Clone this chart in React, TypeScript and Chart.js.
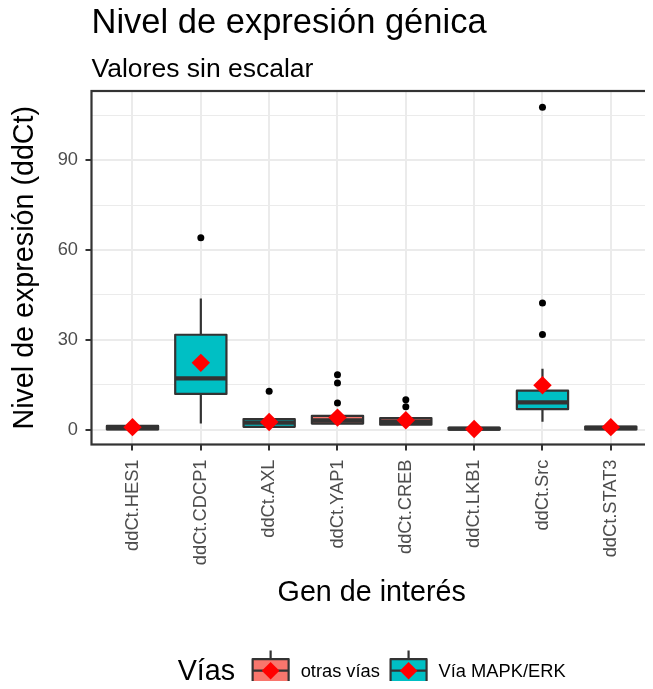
import React, { useEffect, useRef } from 'react';
import { Chart, registerables } from 'chart.js';

Chart.register(...registerables);

const FONT = '"Liberation Sans", Arial, Helvetica, sans-serif';

// ---- text ----
const chartTitle = 'Nivel de expresión génica';
const chartSubtitle = 'Valores sin escalar';
const xTitle = 'Gen de interés';
const yTitle = 'Nivel de expresión (ddCt)';
const legendTitle = 'Vías';

// ---- data ----
const genes = ['ddCt.HES1', 'ddCt.CDCP1', 'ddCt.AXL', 'ddCt.YAP1', 'ddCt.CREB', 'ddCt.LKB1', 'ddCt.Src', 'ddCt.STAT3'];
const pathwayNames = ['otras vías', 'Vía MAPK/ERK'];
const pathwayColors = ['#F8766D', '#00BFC4'];
const genePathway = [0, 1, 1, 0, 0, 0, 1, 0];
const whiskerLow = [0.0, 2.0, 0.5, 1.6, 1.2, 0.0, 2.6, 0.0];
const q1 = [0.05, 11.9, 0.9, 2.0, 1.6, 0.0, 6.8, 0.05];
const median = [0.5, 17.1, 2.3, 3.0, 2.6, 0.3, 9.1, 0.5];
const q3 = [1.2, 31.7, 3.5, 4.6, 3.8, 0.6, 13.0, 1.0];
const whiskerHigh = [1.5, 43.8, 3.6, 4.7, 3.9, 0.8, 20.3, 1.3];
const means = [0.8, 22.3, 2.5, 4.0, 3.1, 0.2, 14.8, 0.8];
const outlierGene = [1, 2, 3, 3, 3, 4, 4, 6, 6, 6];
const outlierValue = [64.1, 12.8, 8.9, 15.6, 18.3, 7.6, 10.0, 31.8, 42.3, 107.8];
const yMajorTicks = [0, 30, 60, 90];
const yMinorTicks = [15, 45, 75, 105];
const yLimits = [-5.0, 113.2];

const DARK = '#333333';
const GRID = '#EBEBEB';
const TITLE_SIZE = 34.5;
const AXIS_TITLE_SIZE = 28.7;
const TICK_SIZE = 18.3;

const boxPlugin = {
  id: 'boxDecor',
  afterDatasetDraw(chart: any, args: any) {
    if (args.index !== 0) return;
    const meta = chart.getDatasetMeta(0);
    const ys = chart.scales.y;
    const ctx = chart.ctx;
    ctx.save();
    ctx.strokeStyle = DARK;
    meta.data.forEach((el: any, i: number) => {
      const { x, width } = el.getProps(['x', 'width'], true);
      const xl = x - width / 2;
      const xr = x + width / 2;
      const pq1 = ys.getPixelForValue(q1[i]);
      const pq3 = ys.getPixelForValue(q3[i]);
      const pm = ys.getPixelForValue(median[i]);
      const pl = ys.getPixelForValue(whiskerLow[i]);
      const ph = ys.getPixelForValue(whiskerHigh[i]);
      ctx.lineCap = 'butt';
      ctx.lineWidth = 2.2;
      ctx.beginPath();
      ctx.moveTo(x, pq3);
      ctx.lineTo(x, ph);
      ctx.moveTo(x, pq1);
      ctx.lineTo(x, pl);
      ctx.stroke();
      ctx.lineJoin = 'round';
      ctx.strokeRect(xl, pq3, width, pq1 - pq3);
      ctx.lineWidth = 4.4;
      ctx.beginPath();
      ctx.moveTo(xl, pm);
      ctx.lineTo(xr, pm);
      ctx.stroke();
    });
    ctx.restore();
  },
};

const frameAndTextPlugin = {
  id: 'frameAndText',
  afterDraw(chart: any) {
    const ctx = chart.ctx;
    const a = chart.chartArea;
    ctx.save();
    // panel border
    ctx.strokeStyle = DARK;
    ctx.lineWidth = 2.2;
    ctx.strokeRect(a.left, a.top, a.right - a.left, a.bottom - a.top);
    // titles
    ctx.fillStyle = '#000000';
    ctx.textAlign = 'left';
    ctx.textBaseline = 'alphabetic';
    ctx.font = `${TITLE_SIZE}px ${FONT}`;
    ctx.fillText(chartTitle, a.left, 33);
    ctx.font = `26.5px ${FONT}`;
    ctx.fillText(chartSubtitle, a.left, 77);

    // legend
    const cy = 670.7;
    const keyW = 36;
    const keyH = 23.3;
    ctx.font = `${AXIS_TITLE_SIZE}px ${FONT}`;
    const tW = ctx.measureText(legendTitle).width;
    ctx.font = `${TICK_SIZE}px ${FONT}`;
    const lW = pathwayNames.map((n) => ctx.measureText(n).width);
    const total = tW + 17.5 + (keyW + 12) * 2 + lW[0] + 10.7 + lW[1];
    let x = (a.left + a.right) / 2 - total / 2;
    ctx.textBaseline = 'middle';
    ctx.font = `${AXIS_TITLE_SIZE}px ${FONT}`;
    ctx.fillStyle = '#000000';
    ctx.fillText(legendTitle, x, cy + 1);
    x += tW + 17.5;
    pathwayNames.forEach((name, k) => {
      const kx = x;
      const cx = kx + keyW / 2;
      // whiskers
      ctx.strokeStyle = DARK;
      ctx.lineWidth = 2.2;
      ctx.lineCap = 'butt';
      ctx.beginPath();
      ctx.moveTo(cx, cy - keyH / 2);
      ctx.lineTo(cx, cy - keyH / 2 - 8.5);
      ctx.moveTo(cx, cy + keyH / 2);
      ctx.lineTo(cx, cy + keyH / 2 + 8.5);
      ctx.stroke();
      ctx.fillStyle = pathwayColors[k];
      ctx.fillRect(kx, cy - keyH / 2, keyW, keyH);
      ctx.lineJoin = 'round';
      ctx.strokeRect(kx, cy - keyH / 2, keyW, keyH);
      ctx.beginPath();
      ctx.moveTo(kx, cy);
      ctx.lineTo(kx + keyW, cy);
      ctx.stroke();
      // diamond
      const r = 8.8;
      ctx.fillStyle = '#FF0000';
      ctx.beginPath();
      ctx.moveTo(cx - r, cy);
      ctx.lineTo(cx, cy - r);
      ctx.lineTo(cx + r, cy);
      ctx.lineTo(cx, cy + r);
      ctx.closePath();
      ctx.fill();
      x += keyW + 12;
      ctx.fillStyle = '#000000';
      ctx.font = `${TICK_SIZE}px ${FONT}`;
      ctx.fillText(name, x, cy + 1);
      x += lW[k] + 10.7;
    });
    ctx.restore();
  },
};

export default function App() {
  const ref = useRef<HTMLCanvasElement>(null);

  useEffect(() => {
    const boxData = genes.map((_, i) => ({ x: i + 1, y: [q1[i], q3[i]] }));
    const outlierData = outlierGene.map((g, k) => ({ x: g + 1, y: outlierValue[k] }));
    const meanData = genes.map((_, i) => ({ x: i + 1, y: means[i] }));

    const chart = new Chart(ref.current as HTMLCanvasElement, {
      type: 'bar',
      data: {
        datasets: [
          {
            type: 'bar',
            data: boxData as any,
            backgroundColor: genePathway.map((p) => pathwayColors[p]),
            borderWidth: 0,
            barPercentage: 0.75,
            categoryPercentage: 1,
            order: 3,
          } as any,
          {
            type: 'scatter',
            data: outlierData,
            pointRadius: 3.5,
            pointBackgroundColor: '#000000',
            pointBorderWidth: 0,
            order: 2,
          } as any,
          {
            type: 'scatter',
            data: meanData,
            pointStyle: 'rectRot',
            pointRadius: 9.2,
            pointBackgroundColor: '#FF0000',
            pointBorderWidth: 0,
            order: 1,
          } as any,
        ],
      },
      options: {
        responsive: false,
        animation: false,
        layout: { padding: { top: 91, left: 0, right: 0, bottom: 0 } },
        font: { family: FONT },
        plugins: {
          legend: { display: false },
          tooltip: { enabled: false },
          title: { display: false },
        },
        scales: {
          x: {
            type: 'linear',
            min: 0.4,
            max: 8.6,
            offset: false,
            afterBuildTicks: (s: any) => {
              s.ticks = genes.map((_, i) => ({ value: i + 1 }));
            },
            afterFit: (s: any) => {
              s.height = 244.5;
            },
            ticks: {
              autoSkip: false,
              minRotation: 90,
              maxRotation: 90,
              padding: 9,
              color: '#4D4D4D',
              font: { family: FONT, size: TICK_SIZE },
              callback: (_v: any, i: number) => genes[i],
            },
            grid: {
              offset: false,
              color: GRID,
              lineWidth: 2,
              tickColor: DARK,
              tickLength: 6,
              tickWidth: 2,
            },
            border: { display: false },
            title: {
              display: true,
              text: xTitle,
              color: '#000000',
              font: { family: FONT, size: AXIS_TITLE_SIZE },
              padding: { top: 0, bottom: 78.3 },
            },
          } as any,
          y: {
            type: 'linear',
            min: yLimits[0],
            max: yLimits[1],
            afterBuildTicks: (s: any) => {
              s.ticks = [...yMajorTicks, ...yMinorTicks].sort((p, q) => p - q).map((v) => ({ value: v }));
            },
            afterFit: (s: any) => {
              s.width = 91.5;
            },
            ticks: {
              padding: 7.5,
              color: '#4D4D4D',
              font: { family: FONT, size: TICK_SIZE },
              callback: (v: any) => (yMajorTicks.includes(v) ? String(v) : ''),
            },
            grid: {
              color: GRID,
              lineWidth: (c: any) => (c.tick && yMajorTicks.includes(c.tick.value) ? 2 : 1.1),
              tickColor: (c: any) => (c.tick && yMajorTicks.includes(c.tick.value) ? DARK : 'rgba(0,0,0,0)'),
              tickLength: 6,
              tickWidth: 2,
            },
            border: { display: false },
            title: {
              display: true,
              text: yTitle,
              color: '#000000',
              font: { family: FONT, size: AXIS_TITLE_SIZE },
              padding: { top: 7.8, bottom: 0 },
            },
          } as any,
        },
      } as any,
      plugins: [boxPlugin, frameAndTextPlugin],
    });
    return () => chart.destroy();
  }, []);

  return (
    <div style={{ margin: -8, width: 653, height: 689, overflow: 'hidden', background: '#ffffff' }}>
      <canvas ref={ref} width={661} height={689} style={{ display: 'block', width: 661, height: 689 }} />
    </div>
  );
}
